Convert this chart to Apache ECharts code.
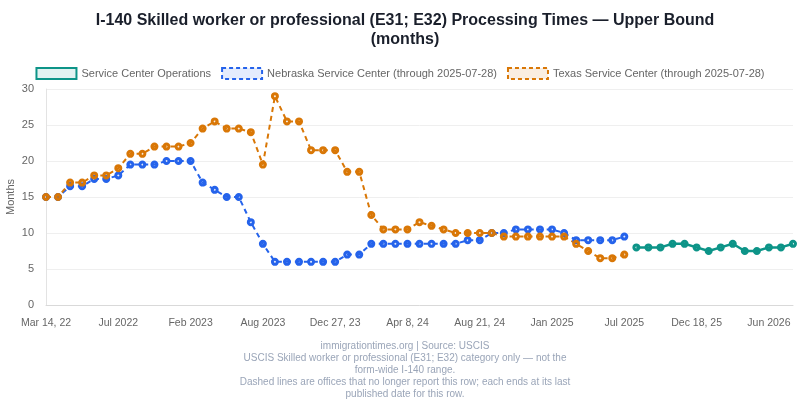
<!DOCTYPE html>
<html>
<head>
<meta charset="utf-8">
<script src="https://cdn.jsdelivr.net/npm/echarts@6/dist/echarts.min.js"></script>
<style>
  html, body { margin: 0; padding: 0; background: #fff; }
  #chart { width: 800px; height: 400px; }
</style>
</head>
<body>
<div id="chart"></div>
<script>
// x categories (report dates); only every 6th one is shown on the axis
var categories = [
  'Mar 14, 22', 'Apr 2022', 'Apr 2022 (2)', 'May 2022', 'May 2022 (2)', 'Jun 2022',
  'Jul 2022', 'Aug 2022', 'Sep 2022', 'Oct 2022', 'Nov 2022', 'Dec 2022',
  'Feb 2023', 'Mar 2023', 'Apr 2023', 'May 2023', 'Jun 2023', 'Jul 2023',
  'Aug 2023', 'Sep 2023', 'Oct 2023', 'Oct 2023 (2)', 'Nov 2023', 'Dec 2023',
  'Dec 27, 23', 'Jan 2024', 'Feb 2024', 'Feb 2024 (2)', 'Mar 2024', 'Mar 2024 (2)',
  'Apr 8, 24', 'May 2024', 'May 2024 (2)', 'Jun 2024', 'Jul 2024', 'Jul 2024 (2)',
  'Aug 21, 24', 'Sep 2024', 'Oct 2024', 'Oct 2024 (2)', 'Nov 2024', 'Dec 2024',
  'Jan 2025', 'Feb 2025', 'Mar 2025', 'Apr 2025', 'May 2025', 'Jun 2025',
  'Jul 2025', 'Aug 2025', 'Sep 2025', 'Oct 2025', 'Oct 2025 (2)', 'Nov 2025',
  'Dec 18, 25', 'Jan 2026', 'Feb 2026', 'Mar 2026', 'Mar 2026 (2)', 'Apr 2026',
  'Jun 2026', 'Jul 2026', 'Aug 2026'
];

// Nebraska Service Center, upper bound in months (ends 2025-07-28)
var nebraskaValues = [
  15, 15, 16.5, 16.5, 17.5, 17.5, 18, 19.5, 19.5, 19.5,
  20, 20, 20, 17, 16, 15, 15, 11.5, 8.5, 6,
  6, 6, 6, 6, 6, 7, 7, 8.5, 8.5, 8.5,
  8.5, 8.5, 8.5, 8.5, 8.5, 9, 9, 10, 10, 10.5,
  10.5, 10.5, 10.5, 10, 9, 9, 9, 9, 9.5
];

// Texas Service Center, upper bound in months (ends 2025-07-28)
var texasValues = [
  15, 15, 17, 17, 18, 18, 19, 21, 21, 22,
  22, 22, 22.5, 24.5, 25.5, 24.5, 24.5, 24, 19.5, 29,
  25.5, 25.5, 21.5, 21.5, 21.5, 18.5, 18.5, 12.5, 10.5, 10.5,
  10.5, 11.5, 11, 10.5, 10, 10, 10, 10, 9.5, 9.5,
  9.5, 9.5, 9.5, 9.5, 8.5, 7.5, 6.5, 6.5, 7
];

// Service Center Operations, upper bound in months
var operationsValues = [8, 8, 8, 8.5, 8.5, 8, 7.5, 8, 8.5, 7.5, 7.5, 8, 8, 8.5];

var labelEvery = 5;

function pad(before, arr, total) {
  var out = [];
  for (var i = 0; i < before; i++) out.push(null);
  out = out.concat(arr);
  while (out.length < total) out.push(null);
  return out;
}

var n = categories.length;
var nebraskaData = pad(0, nebraskaValues, n);
var texasData = pad(0, texasValues, n);
var operationsData = pad(n - operationsValues.length, operationsValues, n);

var chart = echarts.init(document.getElementById('chart'));
var font = "'Liberation Sans', Arial, Helvetica, sans-serif";

var option = {
  animation: false,
  textStyle: { fontFamily: font },
  title: [
    {
      text: 'I-140 Skilled worker or professional (E31; E32) Processing Times — Upper Bound\n(months)',
      left: 400,
      top: 6,
      textAlign: 'center',
      textStyle: { fontSize: 16, fontWeight: 'bold', color: '#1a1f2b', lineHeight: 19, fontFamily: font }
    },
    {
      text: 'immigrationtimes.org | Source: USCIS\nUSCIS Skilled worker or professional (E31; E32) category only — not the\nform-wide I-140 range.\nDashed lines are offices that no longer report this row; each ends at its last\npublished date for this row.',
      left: 400,
      top: 335,
      textAlign: 'center',
      textStyle: { fontSize: 10, fontWeight: 'normal', color: '#9aa5b8', lineHeight: 12, fontFamily: font }
    }
  ],
  legend: {
    top: 62,
    left: 'center',
    icon: 'rect',
    itemWidth: 40,
    itemHeight: 11,
    itemGap: 10,
    textStyle: { color: '#666', fontSize: 11, fontFamily: font },
    data: [
      { name: 'Service Center Operations', itemStyle: { color: 'rgba(13,148,136,0.12)', borderColor: '#0d9488', borderWidth: 2, borderType: 'solid' } },
      { name: 'Nebraska Service Center (through 2025-07-28)', itemStyle: { color: 'rgba(37,99,235,0.12)', borderColor: '#2563eb', borderWidth: 2, borderType: [4, 3] } },
      { name: 'Texas Service Center (through 2025-07-28)', itemStyle: { color: 'rgba(217,119,6,0.12)', borderColor: '#d97706', borderWidth: 2, borderType: [4, 3] } }
    ]
  },
  grid: { left: 46, right: 7, top: 89, bottom: 95, containLabel: false, outerBoundsMode: 'none' },
  xAxis: {
    type: 'category',
    data: categories,
    boundaryGap: false,
    axisLine: { lineStyle: { color: '#d9d9d9' } },
    axisTick: { show: false },
    axisLabel: { interval: labelEvery, color: '#666', fontSize: 10.5, margin: 13 },
    splitLine: { show: false }
  },
  yAxis: {
    type: 'value',
    min: 0,
    max: 30,
    interval: 5,
    name: 'Months',
    nameLocation: 'middle',
    nameGap: 30,
    nameMoveOverlap: false,
    nameTextStyle: { color: '#666', fontSize: 11 },
    axisLine: { show: true, lineStyle: { color: '#e3e3e3' } },
    axisTick: { show: false },
    axisLabel: { color: '#666', fontSize: 11, margin: 12 },
    splitLine: { lineStyle: { color: '#efefef' } }
  },
  series: [
    {
      name: 'Service Center Operations',
      type: 'line',
      data: operationsData,
      symbol: 'circle',
      symbolSize: 5,
      lineStyle: { color: '#0d9488', width: 2.5 },
      itemStyle: { color: 'rgba(13,148,136,0.15)', borderColor: '#0d9488', borderWidth: 3 },
      emphasis: { disabled: true }
    },
    {
      name: 'Nebraska Service Center (through 2025-07-28)',
      type: 'line',
      data: nebraskaData,
      symbol: 'circle',
      symbolSize: 5,
      lineStyle: { color: '#2563eb', width: 2, type: [5, 4] },
      itemStyle: { color: 'rgba(37,99,235,0.15)', borderColor: '#2563eb', borderWidth: 3 },
      emphasis: { disabled: true }
    },
    {
      name: 'Texas Service Center (through 2025-07-28)',
      type: 'line',
      data: texasData,
      symbol: 'circle',
      symbolSize: 5,
      lineStyle: { color: '#d97706', width: 2, type: [5, 4] },
      itemStyle: { color: 'rgba(217,119,6,0.15)', borderColor: '#d97706', borderWidth: 3 },
      emphasis: { disabled: true }
    }
  ]
};

chart.setOption(option);
</script>
</body>
</html>
